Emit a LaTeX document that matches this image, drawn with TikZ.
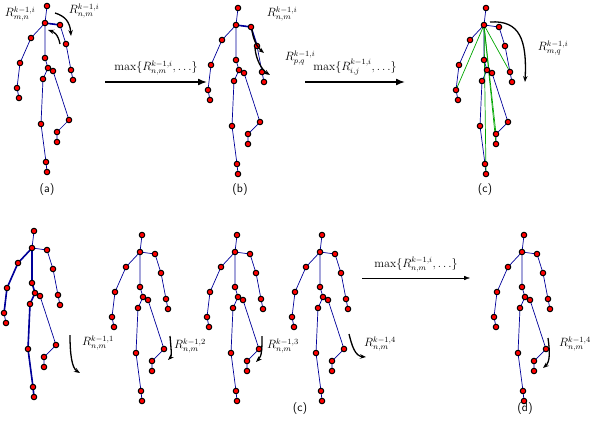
\documentclass[tikz,border=0pt]{standalone}
\usepackage{amsmath}
\usetikzlibrary{arrows.meta}
\newcommand{\skel}[3]{%
  \begin{scope}[shift={(#2,#3)}]
  \coordinate (#1H) at (2,-17); \coordinate (#1N) at (0,0);
  \coordinate (#1RS) at (15,2); \coordinate (#1RE) at (21,21);
  \coordinate (#1RW) at (26,47); \coordinate (#1RH) at (28,57);
  \coordinate (#1LE) at (-14,15); \coordinate (#1LW) at (-25,40);
  \coordinate (#1LX) at (-28,65); \coordinate (#1LF) at (-26,75);
  \coordinate (#1Sp) at (0,35); \coordinate (#1HC) at (3,45);
  \coordinate (#1HR) at (8,48); \coordinate (#1HL) at (-2,56);
  \coordinate (#1RK) at (24,97); \coordinate (#1RA) at (12,109);
  \coordinate (#1RF) at (12,119); \coordinate (#1LK) at (-4,101);
  \coordinate (#1LA) at (1,139); \coordinate (#1LG) at (2,149);
  \end{scope}
  \draw[bone] (#1H)--(#1N)--(#1RS)--(#1RE)--(#1RW)--(#1RH);
  \draw[bone] (#1N)--(#1LE)--(#1LW)--(#1LX)--(#1LF);
  \draw[bone] (#1N)--(#1Sp)--(#1HC)--(#1HR)--(#1RK)--(#1RA)--(#1RF);
  \draw[bone] (#1HC)--(#1HL)--(#1LK)--(#1LA)--(#1LG);
}
\newcommand{\joints}[1]{\foreach \jn in {H,N,RS,RE,RW,RH,LE,LW,LX,LF,Sp,HC,HR,HL,RK,RA,RF,LK,LA,LG} \node[joint] at (#1\jn) {};}
\begin{document}
\begin{tikzpicture}[x=1pt,y=-1pt,
  bone/.style={draw=blue!60!black,line width=0.7pt},
  gbone/.style={draw=green!65!black,line width=0.7pt},
  joint/.style={circle,draw=black,fill=red,line width=1pt,inner sep=0pt,minimum size=5.5pt},
  bigarrow/.style={-{Latex[length=9pt,width=7pt]},line width=1.6pt},
  curv/.style={-{Stealth[length=6pt]},line width=1.3pt},
  lab/.style={font=\large,inner sep=1pt},
  captxt/.style={font=\sffamily\large}]
\useasboundingbox (0,0) rectangle (608,426);
% top row
\skel{a}{45}{23}
\draw[bone,line width=1.6pt] (aN)--(aRS);
\joints{a}
\skel{b}{236}{25}
\draw[bone,line width=1.6pt] (bN)--(bRS)--(bRE);
\joints{b}
\skel{c}{484}{25}
\foreach \t in {LX,RW,RA,RF,LG} \draw[gbone] (cN)--(c\t);
\joints{c}
% bottom row
\skel{d}{32}{248}
\draw[bone,line width=1.6pt] (dLX)--(dLW)--(dLE)--(dN)--(dSp)--(dHC)--(dHL)--(dLK)--(dLA)--(dLG);
\joints{d}
\skel{e}{140}{252}
\joints{e}
\skel{f}{235}{252}
\joints{f}
\skel{g}{320}{252}
\joints{g}
\skel{h}{522}{252}
\joints{h}
% arrows
\coordinate (A1s) at (105,82); \coordinate (A1e) at (207,82);
\draw[bigarrow] (A1s) -- (A1e) node[midway,above=5pt,lab] {$\max\{R_{n,m}^{k-1,i},\ldots\}$};
\coordinate (A2s) at (305,82); \coordinate (A2e) at (405,82);
\draw[bigarrow] (A2s) -- (A2e) node[midway,above=5pt,lab] {$\max\{R_{i,j}^{k-1,i},\ldots\}$};
\coordinate (A3s) at (362,278); \coordinate (A3e) at (470,278);
\draw[thin,-{Latex[length=6pt]}] (A3s) -- (A3e) node[midway,above=5pt,lab] {$\max\{R_{n,m}^{k-1,i},\ldots\}$};
% curved relation arrows and labels
\node[lab] at (20,14) {$R_{m,n}^{k-1,i}$};
\node[lab] at (84,11) {$R_{n,m}^{k-1,i}$};
\draw[curv] (55,13) .. controls (65,16) and (70,22) .. (71,36);
\draw[curv] (60,44) .. controls (58,34) and (54,32) .. (48,30);
\node[lab] at (282,14) {$R_{n,m}^{k-1,i}$};
\node[lab] at (300,58) {$R_{p,q}^{k-1,i}$};
\draw[curv] (252,30) .. controls (253,40) and (258,48) .. (264,53);
\draw[curv] (255,48) .. controls (256,60) and (262,70) .. (270,75);
\node[lab] at (553,48) {$R_{m,q}^{k-1,i}$};
\draw[curv] (490,22) .. controls (520,20) and (527,40) .. (525,82);
\node[lab] at (98,343) {$R_{n,m}^{k-1,1}$};
\draw[curv] (70,335) .. controls (70,355) and (72,368) .. (80,373);
\node[lab] at (190,346) {$R_{n,m}^{k-1,2}$};
\draw[curv] (170,336) .. controls (171,348) and (172,356) .. (168,360);
\node[lab] at (283,346) {$R_{n,m}^{k-1,3}$};
\draw[curv] (262,336) .. controls (262,348) and (262,356) .. (256,362);
\node[lab] at (380,344) {$R_{n,m}^{k-1,4}$};
\draw[curv] (349,334) .. controls (352,346) and (355,356) .. (366,357);
\node[lab] at (575,344) {$R_{n,m}^{k-1,4}$};
\draw[curv] (548,338) .. controls (550,352) and (550,362) .. (543,368);
% captions
\node[captxt] at (47,190) {(a)};
\node[captxt] at (240,190) {(b)};
\node[captxt] at (485,190) {(c)};
\node[captxt] at (300,408) {(c)};
\node[captxt] at (525,408) {(d)};
\end{tikzpicture}
\end{document}
